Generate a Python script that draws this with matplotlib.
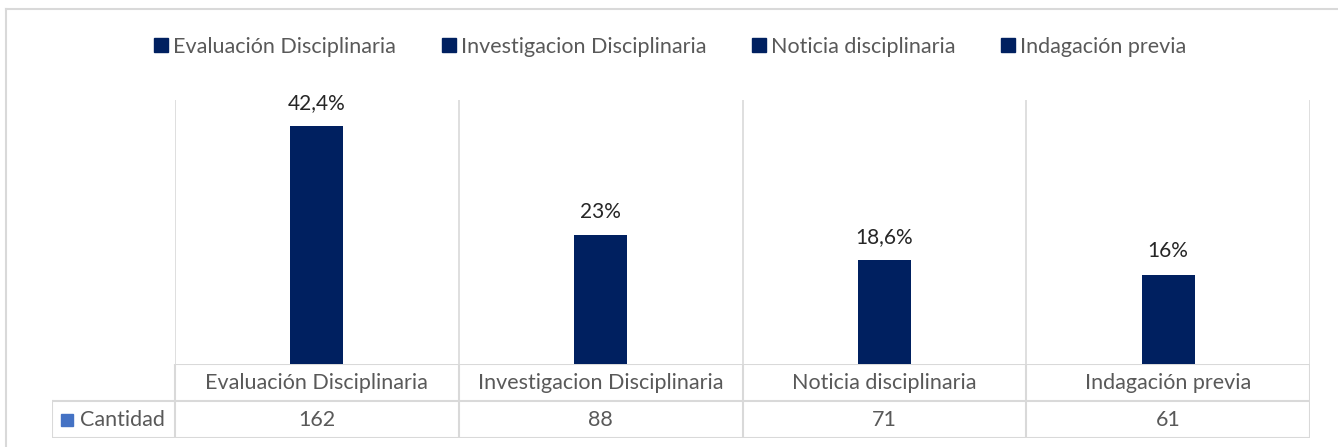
import matplotlib.pyplot as plt
from matplotlib.lines import Line2D

# data
categorias = ['Evaluación Disciplinaria', 'Investigacion Disciplinaria',
              'Noticia disciplinaria', 'Indagación previa']
cantidad = [162, 88, 71, 61]
porcentajes = ['42,4%', '23%', '18,6%', '16%']

navy = '#002060'
grid = '#d9d9d9'
txt = '#595959'
plt.rcParams['font.family'] = ['Lato', 'DejaVu Sans']

W, H = 1338, 447
fig = plt.figure(figsize=(W / 100, H / 100), dpi=100)

def box(x0, y0, x1, y1):
    # pixel box (top-left origin) -> figure fraction
    return [x0 / W, 1 - y1 / H, (x1 - x0) / W, (y1 - y0) / H]

# chart frame (only top and left visible)
fig.add_artist(Line2D([6 / W, 6 / W], [0, 1 - 9 / H], color=grid, lw=1.5))
fig.add_artist(Line2D([6 / W, 1], [1 - 9 / H, 1 - 9 / H], color=grid, lw=1.5))

ax = fig.add_axes(box(175, 100, 1310, 364))
x = range(len(categorias))
ax.bar(x, cantidad, width=0.187, color=navy, zorder=3)
for xi, v, p in zip(x, cantidad, porcentajes):
    ax.text(xi, v + 9, p, ha='center', va='bottom', fontsize=15, color='#262626')
ax.set_xlim(-0.5, len(categorias) - 0.5)
ax.set_ylim(0, 180)
for b in [i - 0.5 for i in range(len(categorias) + 1)]:
    ax.axvline(b, color=grid, lw=1.2, zorder=1)
for s in ax.spines.values():
    s.set_visible(False)
ax.set_xticks([])
ax.set_yticks([])

# data table
tab = fig.add_axes(box(52, 364, 1310, 438))
n = len(categorias)
left = -0.5 - 123 / 283.75
tab.set_xlim(left, n - 0.5)
tab.set_ylim(0, 2)
tab.axis('off')
tab.plot([-0.5, n - 0.5], [2, 2], color=grid, lw=1.5)
tab.plot([left, n - 0.5], [1, 1], color=grid, lw=1.5)
tab.plot([left, n - 0.5], [0, 0], color=grid, lw=1.5)
tab.plot([left, left], [0, 1], color=grid, lw=1.5)
for b in [i - 0.5 for i in range(n + 1)]:
    tab.plot([b, b], [0, 2], color=grid, lw=1.5)
for i, (c, v) in enumerate(zip(categorias, cantidad)):
    tab.text(i, 1.48, c, ha='center', va='center', fontsize=15.5, color=txt)
    tab.text(i, 0.48, str(v), ha='center', va='center', fontsize=15.5, color=txt)
tab.text(left + 0.097, 0.48, 'Cantidad', ha='left', va='center', fontsize=15.5, color=txt)
tab.plot([left + 0.053], [0.5], marker='s', ms=9, color='#4472c4', ls='none')

# legend
handles = [Line2D([], [], marker='s', ms=10, color=navy, ls='none') for _ in categorias]
fig.legend(handles, categorias, loc='center', bbox_to_anchor=(0.5, 1 - 47 / H), ncol=4,
           frameon=False, fontsize=15.5, labelcolor=txt, handletextpad=0.1,
           columnspacing=2.0, handlelength=0.9)

fig.savefig('out.png', dpi=100)
